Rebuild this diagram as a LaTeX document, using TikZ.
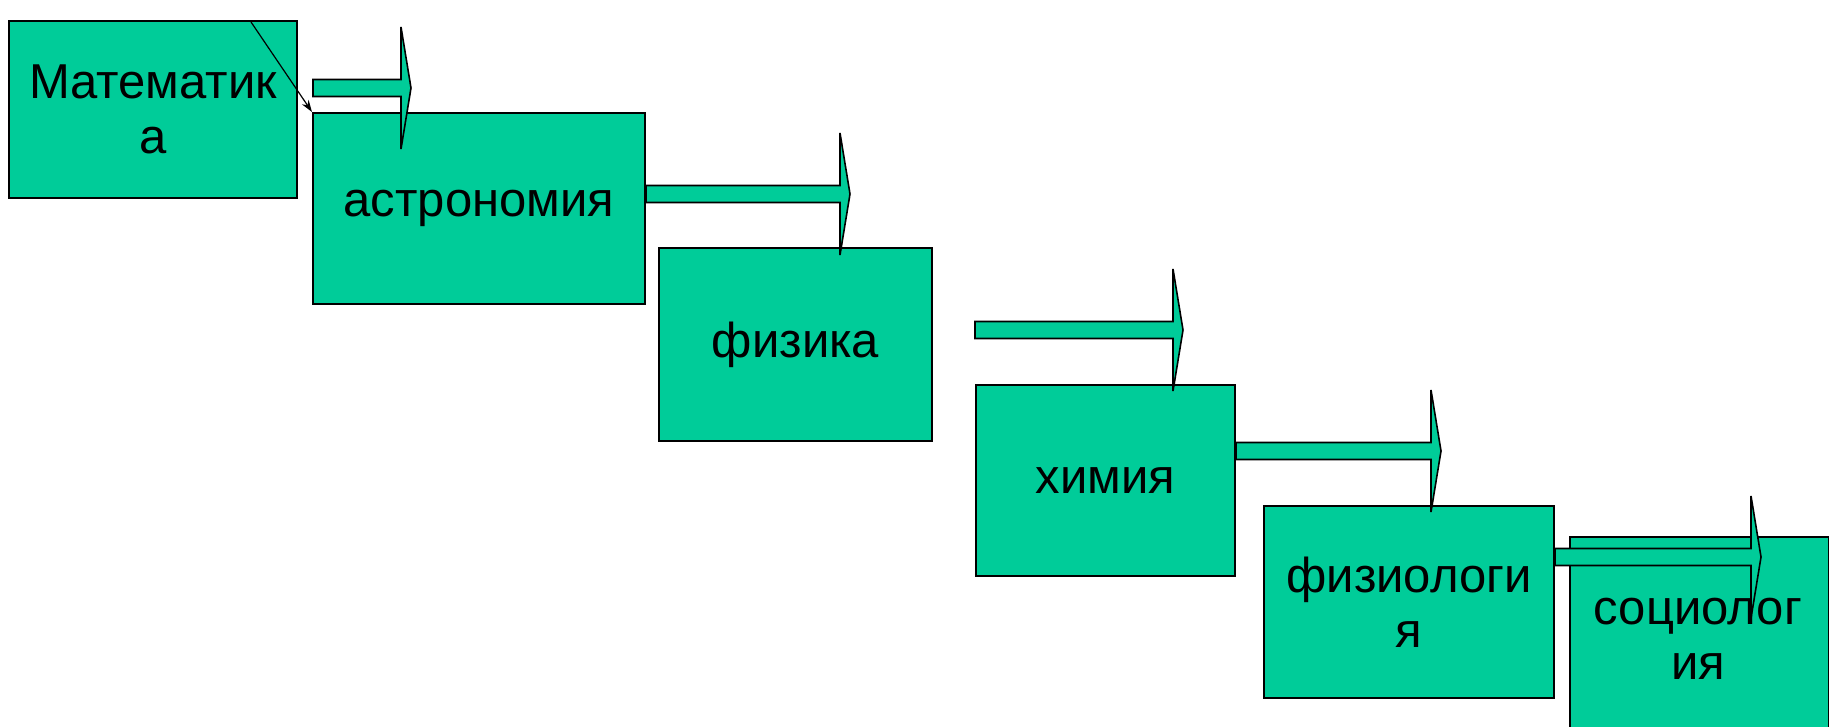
\documentclass[tikz,border=0pt]{standalone}
\usepackage{fontspec}
\setmainfont{Liberation Sans}
\usetikzlibrary{arrows.meta,calc}

\definecolor{boxgreen}{RGB}{0,204,153}

\tikzset{
  subject/.style={draw=black, line width=1pt, fill=boxgreen, text=black,
    inner sep=0pt, align=center, font=\fontsize{24.5}{27.5}\selectfont},
  blockarrow/.style={draw=black, line width=0.8pt, fill=boxgreen}
}

% fat arrow: from #1 to the base of the head at #2
\newcommand{\blockarr}[2]{%
  \path[blockarrow] ($(#1)+(0,-8.5)$) -- ($(#2)+(0,-8.5)$) -- ($(#2)+(0,-61)$)
    -- ($(#2)+(10,0)$) -- ($(#2)+(0,61)$) -- ($(#2)+(0,8.5)$)
    -- ($(#1)+(0,8.5)$) -- cycle;}

\begin{document}
\begin{tikzpicture}[x=0.5pt, y=-0.5pt]

    \clip (0,0) rectangle (1829,727);
    \fill[white] (0,0) rectangle (1829,727);

    \path node (mat) [subject, minimum width=144pt, minimum height=88.5pt] at (153,109.5) {Математик\\а};
    \path node (astro) [subject, minimum width=166pt, minimum height=95.5pt] at (479,208.5) {астрономия};
    \path node (fiz) [subject, minimum width=136.5pt, minimum height=96.5pt] at (795.5,344.5) {физика};
    \path node (him) [subject, minimum width=129.5pt, minimum height=95.5pt] at (1105.5,480.5) {химия};
    \path node (fiziol) [subject, minimum width=145pt, minimum height=96pt] at (1409,602) {физиологи\\я};
    \path node (soc) [subject, minimum width=129.5pt, minimum height=120pt, anchor=north west] at (1569,536) {};
    \path node (soctext) [font=\fontsize{24.5}{27.5}\selectfont, align=center] at (1698,639) {социолог\\ия};

    \coordinate (a1s) at (313,88);
    \coordinate (a1h) at (401,88);
    \coordinate (a2h) at (840,194);
    \coordinate (a2s) at (astro.east |- a2h);
    \coordinate (a3h) at (1173,330);
    \coordinate (a3s) at (him.west |- a3h);
    \coordinate (a4h) at (1431,451);
    \coordinate (a4s) at (him.east |- a4h);
    \coordinate (a5h) at (1751,557);
    \coordinate (a5s) at (fiziol.east |- a5h);

    \blockarr{a1s}{a1h}
    \blockarr{a2s}{a2h}
    \blockarr{a3s}{a3h}
    \blockarr{a4s}{a4h}
    \blockarr{a5s}{a5h}

    \coordinate (thin) at (251,22);
    \draw[line width=0.6pt, -{Stealth[length=6pt, width=4pt]}] (thin) -- (astro.north west);

\end{tikzpicture}
\end{document}
